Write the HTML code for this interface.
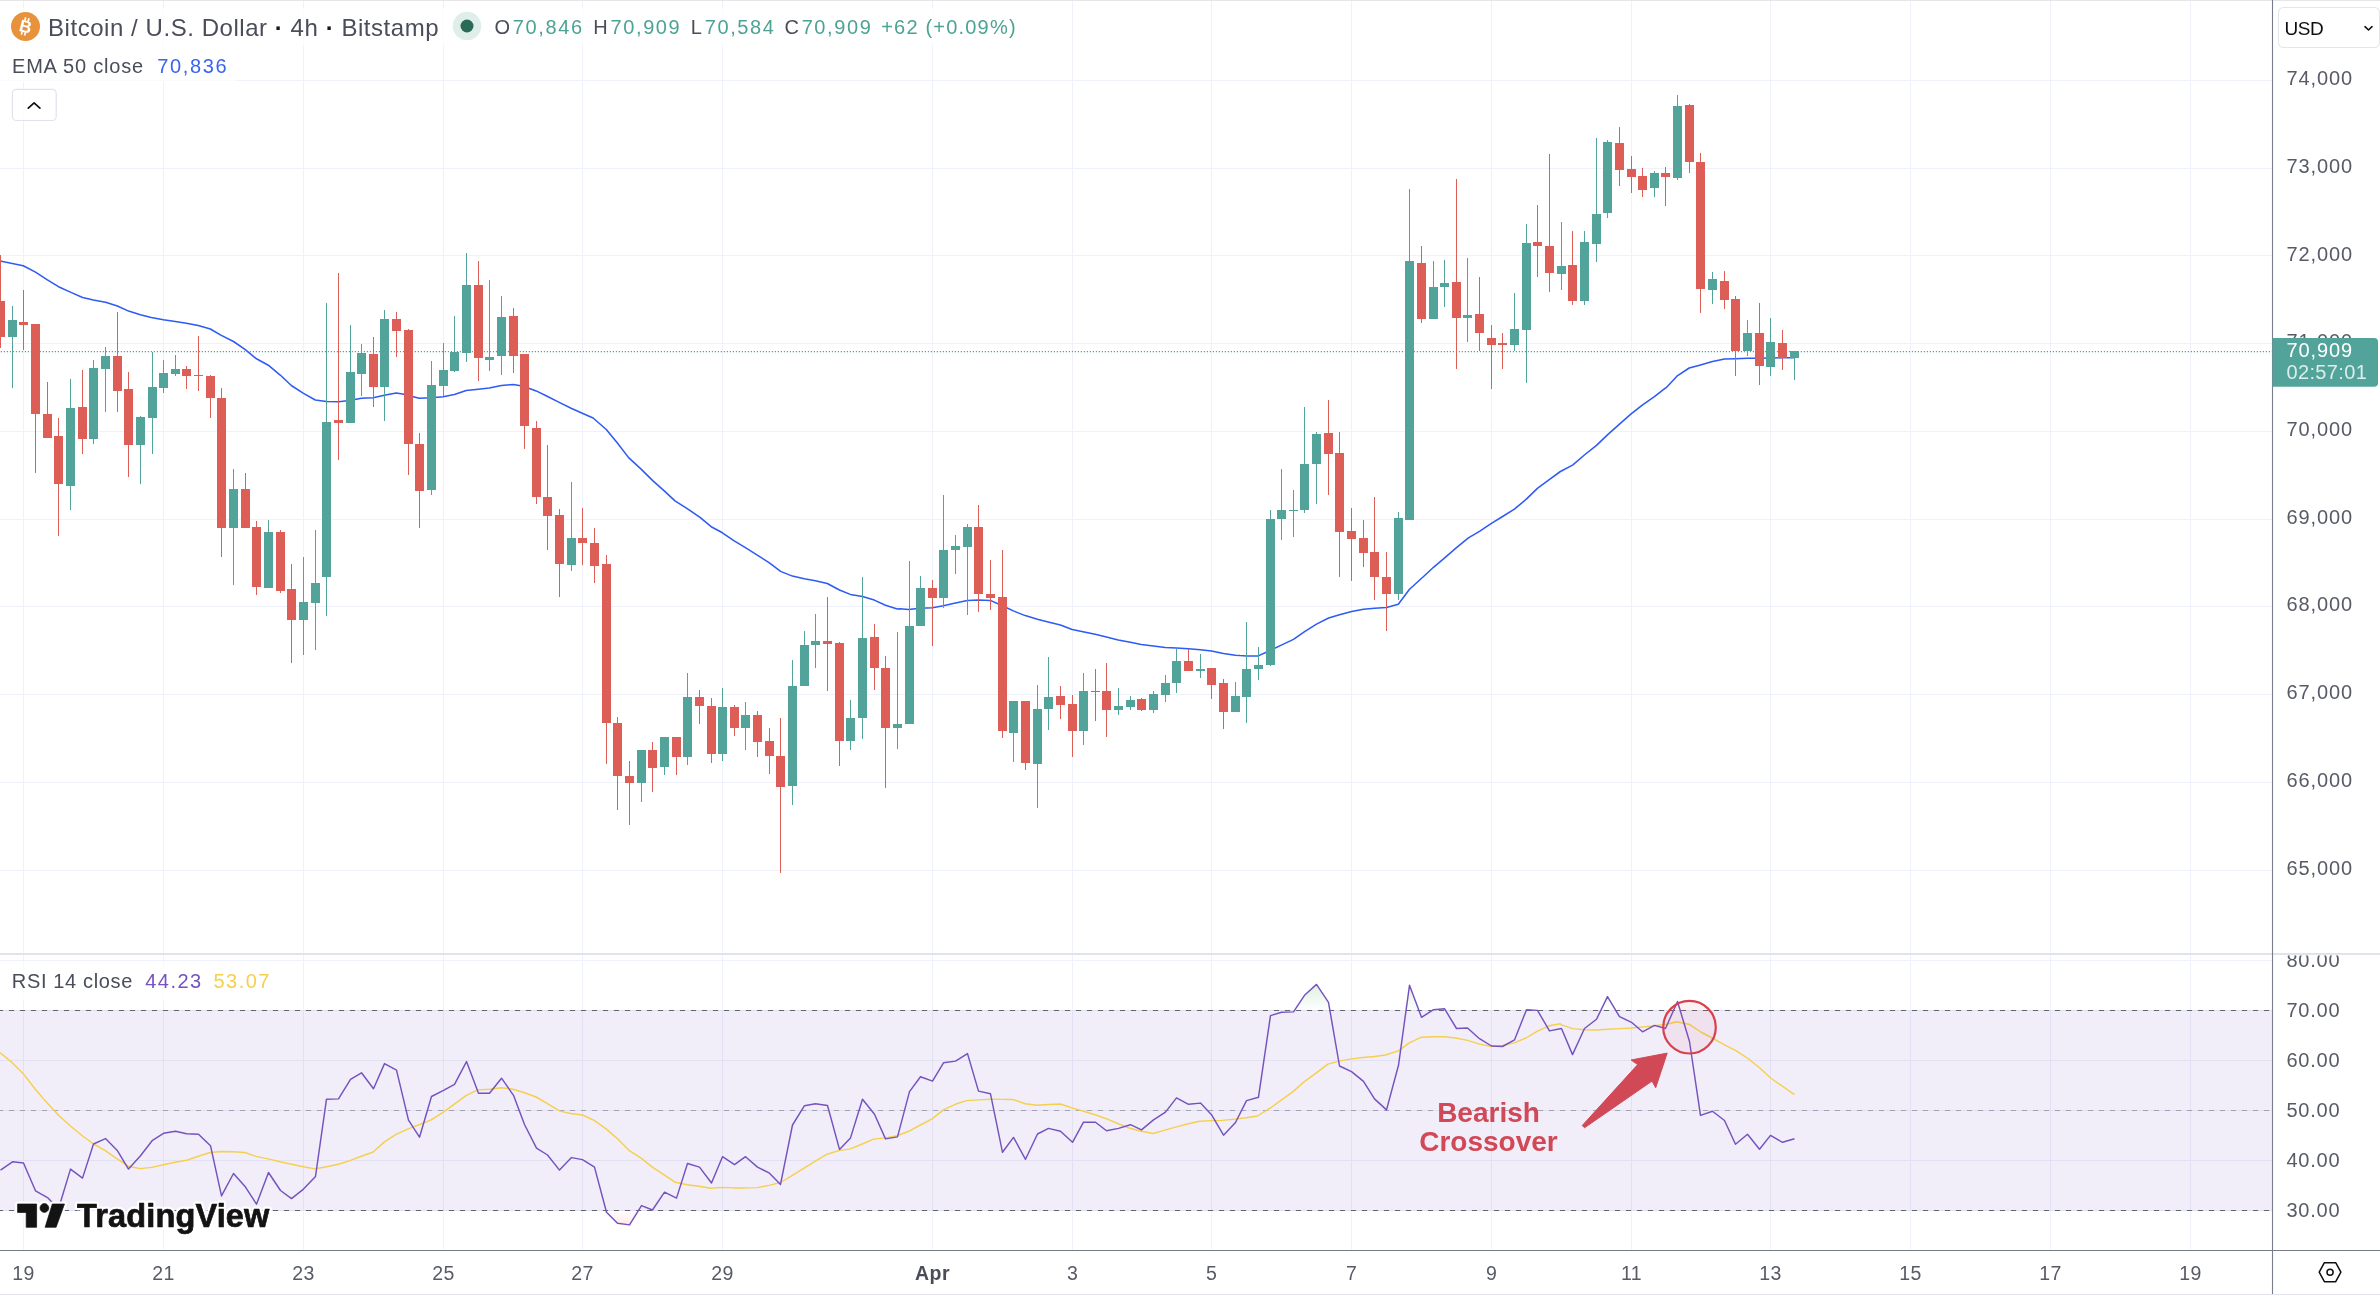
<!DOCTYPE html><html><head><meta charset="utf-8"><title>BTCUSD</title><style>
html,body{margin:0;padding:0;background:#fff;}body{width:2380px;height:1300px;overflow:hidden;position:relative;font-family:"Liberation Sans",sans-serif;}
svg{position:absolute;left:0;top:0;will-change:transform;}svg text{font-family:"Liberation Sans",sans-serif;}
</style></head><body>
<svg width="2380" height="1300" viewBox="0 0 2380 1300">
<rect x="0" y="0" width="2380" height="1300" fill="#fff"/>
<g stroke="#EFF2FA" stroke-width="1" fill="none">
<line x1="23.5" y1="1" x2="23.5" y2="1250"/>
<line x1="163.5" y1="1" x2="163.5" y2="1250"/>
<line x1="303.5" y1="1" x2="303.5" y2="1250"/>
<line x1="443.5" y1="1" x2="443.5" y2="1250"/>
<line x1="582.5" y1="1" x2="582.5" y2="1250"/>
<line x1="722.5" y1="1" x2="722.5" y2="1250"/>
<line x1="932.5" y1="1" x2="932.5" y2="1250"/>
<line x1="1072.5" y1="1" x2="1072.5" y2="1250"/>
<line x1="1211.5" y1="1" x2="1211.5" y2="1250"/>
<line x1="1351.5" y1="1" x2="1351.5" y2="1250"/>
<line x1="1491.5" y1="1" x2="1491.5" y2="1250"/>
<line x1="1631.5" y1="1" x2="1631.5" y2="1250"/>
<line x1="1770.5" y1="1" x2="1770.5" y2="1250"/>
<line x1="1910.5" y1="1" x2="1910.5" y2="1250"/>
<line x1="2050.5" y1="1" x2="2050.5" y2="1250"/>
<line x1="2190.5" y1="1" x2="2190.5" y2="1250"/>
<line x1="0" y1="80.5" x2="2272.5" y2="80.5"/>
<line x1="0" y1="168.5" x2="2272.5" y2="168.5"/>
<line x1="0" y1="255.5" x2="2272.5" y2="255.5"/>
<line x1="0" y1="343.5" x2="2272.5" y2="343.5"/>
<line x1="0" y1="431.5" x2="2272.5" y2="431.5"/>
<line x1="0" y1="519.5" x2="2272.5" y2="519.5"/>
<line x1="0" y1="606.5" x2="2272.5" y2="606.5"/>
<line x1="0" y1="694.5" x2="2272.5" y2="694.5"/>
<line x1="0" y1="782.5" x2="2272.5" y2="782.5"/>
<line x1="0" y1="870.5" x2="2272.5" y2="870.5"/>
</g>
<g stroke="#EFF2FA" stroke-width="1" fill="none">
<line x1="0" y1="960.5" x2="2272.5" y2="960.5"/>
<line x1="0" y1="1010.5" x2="2272.5" y2="1010.5"/>
<line x1="0" y1="1060.5" x2="2272.5" y2="1060.5"/>
<line x1="0" y1="1110.5" x2="2272.5" y2="1110.5"/>
<line x1="0" y1="1160.5" x2="2272.5" y2="1160.5"/>
<line x1="0" y1="1210.5" x2="2272.5" y2="1210.5"/>
</g>
<rect x="0" y="1010" width="2272.5" height="201" fill="#7E57C2" fill-opacity="0.105"/>
<g fill="none" stroke-width="1.15" stroke-dasharray="5.2 5.8" stroke-dashoffset="2.1">
<line x1="0" y1="1010.5" x2="2272.5" y2="1010.5" stroke="#63656E"/>
<line x1="0" y1="1110.5" x2="2272.5" y2="1110.5" stroke="#63656E" stroke-opacity="0.5"/>
<line x1="0" y1="1210.5" x2="2272.5" y2="1210.5" stroke="#63656E"/>
</g>
<line x1="0" y1="351.5" x2="2272.5" y2="351.5" stroke="#4FA397" stroke-width="1.25" stroke-dasharray="1.2 1.8" stroke-dashoffset="2.2"/>
<polyline fill="none" stroke="#2E5BF3" stroke-width="1.55" stroke-linejoin="round" points="0.0,261.0 23.3,265.7 35.5,272.1 47.4,279.9 58.5,286.7 70.4,292.1 82.6,297.5 93.4,299.9 105.6,302.3 117.4,306.0 128.6,311.1 140.4,314.8 151.2,317.5 163.4,319.8 175.3,321.5 186.4,323.2 198.3,325.6 210.4,329.0 221.3,335.4 233.5,341.5 245.3,349.6 256.5,358.8 268.3,365.2 280.5,375.3 291.3,385.5 303.5,393.3 315.3,400.0 326.5,401.4 338.7,401.7 349.5,400.4 361.3,398.3 373.2,397.7 384.3,395.3 396.2,392.9 402.6,393.9 408.3,395.6 419.2,398.3 431.4,397.7 443.2,396.7 454.4,394.6 466.2,390.6 478.4,389.2 489.2,387.9 501.4,385.5 513.2,384.5 519.3,385.5 524.1,386.5 536.2,390.9 547.1,396.3 559.2,402.4 571.1,408.2 582.3,413.2 593.1,418.0 606.3,429.5 617.4,443.0 628.6,457.6 641.1,469.1 653.0,480.9 664.8,491.4 675.0,500.9 686.8,508.3 700.0,517.4 711.2,526.7 722.4,532.8 734.2,540.9 745.4,547.7 757.3,555.1 769.4,562.9 780.6,571.4 792.4,576.1 804.3,578.8 815.4,580.8 827.3,583.5 839.5,590.0 850.3,594.4 862.5,596.4 874.3,600.1 885.5,605.2 897.3,608.9 900.0,608.8 908.5,609.5 920.3,608.2 932.5,607.8 943.3,605.8 955.5,603.1 967.3,600.4 978.5,600.0 990.3,600.4 1002.5,605.8 1013.3,610.9 1025.2,615.6 1037.4,619.3 1048.2,622.0 1060.4,625.1 1072.2,629.5 1083.0,631.8 1095.2,634.2 1106.4,636.9 1118.2,640.0 1130.4,642.3 1141.2,644.4 1153.4,646.0 1165.3,647.4 1176.4,648.1 1188.3,648.8 1200.4,649.8 1211.6,651.1 1223.5,653.5 1235.3,655.2 1240.0,655.6 1246.4,655.9 1258.3,655.9 1270.5,650.2 1281.3,645.1 1293.5,639.4 1304.6,631.6 1316.5,624.1 1328.6,618.0 1339.5,614.7 1351.7,611.6 1363.5,609.2 1374.7,608.2 1386.5,607.6 1398.3,604.2 1409.5,589.3 1421.4,578.5 1433.5,567.3 1444.4,558.2 1456.5,547.7 1468.4,537.9 1479.5,531.4 1491.4,523.3 1502.6,516.5 1514.4,509.1 1526.6,498.9 1537.7,488.1 1549.6,479.3 1560.4,471.5 1572.6,465.1 1584.4,455.0 1596.5,445.4 1607.7,434.6 1619.5,424.1 1631.4,413.6 1642.6,404.8 1654.4,396.7 1665.6,387.9 1666.2,387.7 1676.9,376.2 1689.2,368.0 1700.5,364.9 1712.5,361.5 1724.5,359.1 1735.4,358.8 1747.5,358.2 1759.4,358.2 1770.5,358.0 1782.5,357.8 1794.5,357.8"/>
<g shape-rendering="crispEdges">
<rect x="0" y="255" width="1" height="93" fill="#DD5E56"/><rect x="-4" y="301" width="9" height="36" fill="#DD5E56"/>
<rect x="12" y="306" width="1" height="82" fill="#52A49A"/><rect x="8" y="320" width="9" height="17" fill="#52A49A"/>
<rect x="23" y="290" width="1" height="60" fill="#DD5E56"/><rect x="19" y="322" width="9" height="3" fill="#DD5E56"/>
<rect x="35" y="324" width="1" height="149" fill="#DD5E56"/><rect x="31" y="324" width="9" height="90" fill="#DD5E56"/>
<rect x="47" y="382" width="1" height="56" fill="#DD5E56"/><rect x="43" y="414" width="9" height="24" fill="#DD5E56"/>
<rect x="58" y="418" width="1" height="118" fill="#DD5E56"/><rect x="54" y="436" width="9" height="48" fill="#DD5E56"/>
<rect x="70" y="379" width="1" height="131" fill="#52A49A"/><rect x="66" y="408" width="9" height="78" fill="#52A49A"/>
<rect x="82" y="370" width="1" height="84" fill="#DD5E56"/><rect x="78" y="407" width="9" height="32" fill="#DD5E56"/>
<rect x="93" y="360" width="1" height="84" fill="#52A49A"/><rect x="89" y="368" width="9" height="71" fill="#52A49A"/>
<rect x="105" y="347" width="1" height="65" fill="#52A49A"/><rect x="101" y="356" width="9" height="13" fill="#52A49A"/>
<rect x="117" y="312" width="1" height="100" fill="#DD5E56"/><rect x="113" y="356" width="9" height="35" fill="#DD5E56"/>
<rect x="128" y="372" width="1" height="105" fill="#DD5E56"/><rect x="124" y="389" width="9" height="56" fill="#DD5E56"/>
<rect x="140" y="416" width="1" height="68" fill="#52A49A"/><rect x="136" y="417" width="9" height="28" fill="#52A49A"/>
<rect x="152" y="352" width="1" height="102" fill="#52A49A"/><rect x="148" y="387" width="9" height="31" fill="#52A49A"/>
<rect x="163" y="360" width="1" height="33" fill="#52A49A"/><rect x="159" y="373" width="9" height="15" fill="#52A49A"/>
<rect x="175" y="355" width="1" height="21" fill="#52A49A"/><rect x="171" y="369" width="9" height="5" fill="#52A49A"/>
<rect x="186" y="366" width="1" height="23" fill="#DD5E56"/><rect x="182" y="369" width="9" height="7" fill="#DD5E56"/>
<rect x="198" y="336" width="1" height="55" fill="#DD5E56"/><rect x="194" y="375" width="9" height="1" fill="#DD5E56"/>
<rect x="210" y="375" width="1" height="43" fill="#DD5E56"/><rect x="206" y="376" width="9" height="22" fill="#DD5E56"/>
<rect x="221" y="388" width="1" height="169" fill="#DD5E56"/><rect x="217" y="398" width="9" height="130" fill="#DD5E56"/>
<rect x="233" y="469" width="1" height="116" fill="#52A49A"/><rect x="229" y="489" width="9" height="39" fill="#52A49A"/>
<rect x="245" y="473" width="1" height="55" fill="#DD5E56"/><rect x="241" y="489" width="9" height="39" fill="#DD5E56"/>
<rect x="256" y="521" width="1" height="74" fill="#DD5E56"/><rect x="252" y="527" width="9" height="60" fill="#DD5E56"/>
<rect x="268" y="520" width="1" height="68" fill="#52A49A"/><rect x="264" y="532" width="9" height="56" fill="#52A49A"/>
<rect x="280" y="530" width="1" height="63" fill="#DD5E56"/><rect x="276" y="532" width="9" height="59" fill="#DD5E56"/>
<rect x="291" y="564" width="1" height="99" fill="#DD5E56"/><rect x="287" y="589" width="9" height="31" fill="#DD5E56"/>
<rect x="303" y="557" width="1" height="98" fill="#52A49A"/><rect x="299" y="602" width="9" height="18" fill="#52A49A"/>
<rect x="315" y="530" width="1" height="120" fill="#52A49A"/><rect x="311" y="583" width="9" height="20" fill="#52A49A"/>
<rect x="326" y="303" width="1" height="313" fill="#52A49A"/><rect x="322" y="422" width="9" height="155" fill="#52A49A"/>
<rect x="338" y="273" width="1" height="187" fill="#DD5E56"/><rect x="334" y="420" width="9" height="3" fill="#DD5E56"/>
<rect x="350" y="325" width="1" height="98" fill="#52A49A"/><rect x="346" y="372" width="9" height="51" fill="#52A49A"/>
<rect x="361" y="344" width="1" height="52" fill="#52A49A"/><rect x="357" y="353" width="9" height="21" fill="#52A49A"/>
<rect x="373" y="337" width="1" height="70" fill="#DD5E56"/><rect x="369" y="354" width="9" height="33" fill="#DD5E56"/>
<rect x="384" y="310" width="1" height="111" fill="#52A49A"/><rect x="380" y="319" width="9" height="68" fill="#52A49A"/>
<rect x="396" y="312" width="1" height="45" fill="#DD5E56"/><rect x="392" y="319" width="9" height="12" fill="#DD5E56"/>
<rect x="408" y="329" width="1" height="146" fill="#DD5E56"/><rect x="404" y="330" width="9" height="114" fill="#DD5E56"/>
<rect x="419" y="433" width="1" height="95" fill="#DD5E56"/><rect x="415" y="444" width="9" height="47" fill="#DD5E56"/>
<rect x="431" y="361" width="1" height="134" fill="#52A49A"/><rect x="427" y="385" width="9" height="105" fill="#52A49A"/>
<rect x="443" y="343" width="1" height="53" fill="#52A49A"/><rect x="439" y="370" width="9" height="16" fill="#52A49A"/>
<rect x="454" y="316" width="1" height="56" fill="#52A49A"/><rect x="450" y="352" width="9" height="19" fill="#52A49A"/>
<rect x="466" y="253" width="1" height="109" fill="#52A49A"/><rect x="462" y="285" width="9" height="68" fill="#52A49A"/>
<rect x="478" y="261" width="1" height="120" fill="#DD5E56"/><rect x="474" y="285" width="9" height="73" fill="#DD5E56"/>
<rect x="489" y="280" width="1" height="91" fill="#52A49A"/><rect x="485" y="357" width="9" height="3" fill="#52A49A"/>
<rect x="501" y="296" width="1" height="79" fill="#52A49A"/><rect x="497" y="317" width="9" height="39" fill="#52A49A"/>
<rect x="513" y="308" width="1" height="65" fill="#DD5E56"/><rect x="509" y="316" width="9" height="40" fill="#DD5E56"/>
<rect x="524" y="354" width="1" height="95" fill="#DD5E56"/><rect x="520" y="354" width="9" height="72" fill="#DD5E56"/>
<rect x="536" y="421" width="1" height="83" fill="#DD5E56"/><rect x="532" y="428" width="9" height="69" fill="#DD5E56"/>
<rect x="547" y="445" width="1" height="105" fill="#DD5E56"/><rect x="543" y="497" width="9" height="19" fill="#DD5E56"/>
<rect x="559" y="509" width="1" height="88" fill="#DD5E56"/><rect x="555" y="515" width="9" height="49" fill="#DD5E56"/>
<rect x="571" y="482" width="1" height="89" fill="#52A49A"/><rect x="567" y="538" width="9" height="27" fill="#52A49A"/>
<rect x="582" y="508" width="1" height="57" fill="#DD5E56"/><rect x="578" y="538" width="9" height="5" fill="#DD5E56"/>
<rect x="594" y="528" width="1" height="55" fill="#DD5E56"/><rect x="590" y="543" width="9" height="23" fill="#DD5E56"/>
<rect x="606" y="555" width="1" height="209" fill="#DD5E56"/><rect x="602" y="564" width="9" height="159" fill="#DD5E56"/>
<rect x="617" y="717" width="1" height="93" fill="#DD5E56"/><rect x="613" y="723" width="9" height="53" fill="#DD5E56"/>
<rect x="629" y="761" width="1" height="64" fill="#DD5E56"/><rect x="625" y="776" width="9" height="7" fill="#DD5E56"/>
<rect x="641" y="750" width="1" height="52" fill="#52A49A"/><rect x="637" y="750" width="9" height="33" fill="#52A49A"/>
<rect x="652" y="742" width="1" height="50" fill="#DD5E56"/><rect x="648" y="750" width="9" height="18" fill="#DD5E56"/>
<rect x="664" y="737" width="1" height="38" fill="#52A49A"/><rect x="660" y="737" width="9" height="30" fill="#52A49A"/>
<rect x="676" y="737" width="1" height="38" fill="#DD5E56"/><rect x="672" y="737" width="9" height="20" fill="#DD5E56"/>
<rect x="687" y="673" width="1" height="92" fill="#52A49A"/><rect x="683" y="697" width="9" height="60" fill="#52A49A"/>
<rect x="699" y="690" width="1" height="34" fill="#DD5E56"/><rect x="695" y="697" width="9" height="9" fill="#DD5E56"/>
<rect x="711" y="698" width="1" height="65" fill="#DD5E56"/><rect x="707" y="706" width="9" height="48" fill="#DD5E56"/>
<rect x="722" y="688" width="1" height="73" fill="#52A49A"/><rect x="718" y="707" width="9" height="47" fill="#52A49A"/>
<rect x="734" y="705" width="1" height="31" fill="#DD5E56"/><rect x="730" y="707" width="9" height="21" fill="#DD5E56"/>
<rect x="745" y="702" width="1" height="48" fill="#52A49A"/><rect x="741" y="715" width="9" height="13" fill="#52A49A"/>
<rect x="757" y="711" width="1" height="46" fill="#DD5E56"/><rect x="753" y="715" width="9" height="27" fill="#DD5E56"/>
<rect x="769" y="728" width="1" height="46" fill="#DD5E56"/><rect x="765" y="741" width="9" height="15" fill="#DD5E56"/>
<rect x="780" y="718" width="1" height="155" fill="#DD5E56"/><rect x="776" y="756" width="9" height="31" fill="#DD5E56"/>
<rect x="792" y="660" width="1" height="145" fill="#52A49A"/><rect x="788" y="686" width="9" height="100" fill="#52A49A"/>
<rect x="804" y="631" width="1" height="55" fill="#52A49A"/><rect x="800" y="645" width="9" height="41" fill="#52A49A"/>
<rect x="815" y="614" width="1" height="54" fill="#52A49A"/><rect x="811" y="641" width="9" height="4" fill="#52A49A"/>
<rect x="827" y="597" width="1" height="94" fill="#DD5E56"/><rect x="823" y="641" width="9" height="3" fill="#DD5E56"/>
<rect x="839" y="642" width="1" height="124" fill="#DD5E56"/><rect x="835" y="643" width="9" height="98" fill="#DD5E56"/>
<rect x="850" y="700" width="1" height="50" fill="#52A49A"/><rect x="846" y="718" width="9" height="23" fill="#52A49A"/>
<rect x="862" y="577" width="1" height="162" fill="#52A49A"/><rect x="858" y="638" width="9" height="80" fill="#52A49A"/>
<rect x="874" y="624" width="1" height="66" fill="#DD5E56"/><rect x="870" y="637" width="9" height="31" fill="#DD5E56"/>
<rect x="885" y="656" width="1" height="132" fill="#DD5E56"/><rect x="881" y="668" width="9" height="60" fill="#DD5E56"/>
<rect x="897" y="632" width="1" height="117" fill="#52A49A"/><rect x="893" y="724" width="9" height="4" fill="#52A49A"/>
<rect x="909" y="561" width="1" height="163" fill="#52A49A"/><rect x="905" y="626" width="9" height="98" fill="#52A49A"/>
<rect x="920" y="576" width="1" height="50" fill="#52A49A"/><rect x="916" y="588" width="9" height="38" fill="#52A49A"/>
<rect x="932" y="580" width="1" height="66" fill="#DD5E56"/><rect x="928" y="588" width="9" height="10" fill="#DD5E56"/>
<rect x="943" y="495" width="1" height="113" fill="#52A49A"/><rect x="939" y="550" width="9" height="48" fill="#52A49A"/>
<rect x="955" y="535" width="1" height="39" fill="#52A49A"/><rect x="951" y="546" width="9" height="4" fill="#52A49A"/>
<rect x="967" y="524" width="1" height="91" fill="#52A49A"/><rect x="963" y="527" width="9" height="20" fill="#52A49A"/>
<rect x="978" y="505" width="1" height="107" fill="#DD5E56"/><rect x="974" y="527" width="9" height="67" fill="#DD5E56"/>
<rect x="990" y="560" width="1" height="50" fill="#DD5E56"/><rect x="986" y="594" width="9" height="4" fill="#DD5E56"/>
<rect x="1002" y="550" width="1" height="188" fill="#DD5E56"/><rect x="998" y="597" width="9" height="134" fill="#DD5E56"/>
<rect x="1013" y="701" width="1" height="61" fill="#52A49A"/><rect x="1009" y="701" width="9" height="32" fill="#52A49A"/>
<rect x="1025" y="701" width="1" height="69" fill="#DD5E56"/><rect x="1021" y="701" width="9" height="62" fill="#DD5E56"/>
<rect x="1037" y="685" width="1" height="123" fill="#52A49A"/><rect x="1033" y="709" width="9" height="55" fill="#52A49A"/>
<rect x="1048" y="657" width="1" height="73" fill="#52A49A"/><rect x="1044" y="697" width="9" height="12" fill="#52A49A"/>
<rect x="1060" y="686" width="1" height="33" fill="#DD5E56"/><rect x="1056" y="696" width="9" height="9" fill="#DD5E56"/>
<rect x="1072" y="695" width="1" height="62" fill="#DD5E56"/><rect x="1068" y="704" width="9" height="27" fill="#DD5E56"/>
<rect x="1083" y="673" width="1" height="72" fill="#52A49A"/><rect x="1079" y="691" width="9" height="40" fill="#52A49A"/>
<rect x="1095" y="669" width="1" height="52" fill="#DD5E56"/><rect x="1091" y="691" width="9" height="1" fill="#DD5E56"/>
<rect x="1106" y="663" width="1" height="74" fill="#DD5E56"/><rect x="1102" y="691" width="9" height="19" fill="#DD5E56"/>
<rect x="1118" y="688" width="1" height="27" fill="#52A49A"/><rect x="1114" y="706" width="9" height="4" fill="#52A49A"/>
<rect x="1130" y="696" width="1" height="14" fill="#52A49A"/><rect x="1126" y="700" width="9" height="7" fill="#52A49A"/>
<rect x="1141" y="698" width="1" height="13" fill="#DD5E56"/><rect x="1137" y="699" width="9" height="11" fill="#DD5E56"/>
<rect x="1153" y="691" width="1" height="22" fill="#52A49A"/><rect x="1149" y="694" width="9" height="16" fill="#52A49A"/>
<rect x="1165" y="675" width="1" height="27" fill="#52A49A"/><rect x="1161" y="683" width="9" height="12" fill="#52A49A"/>
<rect x="1176" y="649" width="1" height="44" fill="#52A49A"/><rect x="1172" y="661" width="9" height="22" fill="#52A49A"/>
<rect x="1188" y="649" width="1" height="22" fill="#DD5E56"/><rect x="1184" y="661" width="9" height="10" fill="#DD5E56"/>
<rect x="1200" y="654" width="1" height="24" fill="#52A49A"/><rect x="1196" y="669" width="9" height="2" fill="#52A49A"/>
<rect x="1211" y="668" width="1" height="31" fill="#DD5E56"/><rect x="1207" y="668" width="9" height="17" fill="#DD5E56"/>
<rect x="1223" y="679" width="1" height="50" fill="#DD5E56"/><rect x="1219" y="683" width="9" height="29" fill="#DD5E56"/>
<rect x="1235" y="682" width="1" height="30" fill="#52A49A"/><rect x="1231" y="696" width="9" height="16" fill="#52A49A"/>
<rect x="1246" y="622" width="1" height="101" fill="#52A49A"/><rect x="1242" y="669" width="9" height="28" fill="#52A49A"/>
<rect x="1258" y="647" width="1" height="33" fill="#52A49A"/><rect x="1254" y="665" width="9" height="4" fill="#52A49A"/>
<rect x="1270" y="510" width="1" height="156" fill="#52A49A"/><rect x="1266" y="519" width="9" height="146" fill="#52A49A"/>
<rect x="1281" y="469" width="1" height="71" fill="#52A49A"/><rect x="1277" y="510" width="9" height="9" fill="#52A49A"/>
<rect x="1293" y="490" width="1" height="47" fill="#52A49A"/><rect x="1289" y="510" width="9" height="1" fill="#52A49A"/>
<rect x="1304" y="407" width="1" height="106" fill="#52A49A"/><rect x="1300" y="464" width="9" height="46" fill="#52A49A"/>
<rect x="1316" y="432" width="1" height="72" fill="#52A49A"/><rect x="1312" y="434" width="9" height="30" fill="#52A49A"/>
<rect x="1328" y="400" width="1" height="95" fill="#DD5E56"/><rect x="1324" y="433" width="9" height="21" fill="#DD5E56"/>
<rect x="1339" y="432" width="1" height="145" fill="#DD5E56"/><rect x="1335" y="453" width="9" height="79" fill="#DD5E56"/>
<rect x="1351" y="508" width="1" height="73" fill="#DD5E56"/><rect x="1347" y="531" width="9" height="8" fill="#DD5E56"/>
<rect x="1363" y="520" width="1" height="47" fill="#DD5E56"/><rect x="1359" y="538" width="9" height="15" fill="#DD5E56"/>
<rect x="1374" y="497" width="1" height="103" fill="#DD5E56"/><rect x="1370" y="552" width="9" height="25" fill="#DD5E56"/>
<rect x="1386" y="552" width="1" height="79" fill="#DD5E56"/><rect x="1382" y="577" width="9" height="17" fill="#DD5E56"/>
<rect x="1398" y="512" width="1" height="88" fill="#52A49A"/><rect x="1394" y="518" width="9" height="76" fill="#52A49A"/>
<rect x="1409" y="189" width="1" height="331" fill="#52A49A"/><rect x="1405" y="261" width="9" height="259" fill="#52A49A"/>
<rect x="1421" y="246" width="1" height="77" fill="#DD5E56"/><rect x="1417" y="263" width="9" height="56" fill="#DD5E56"/>
<rect x="1433" y="261" width="1" height="58" fill="#52A49A"/><rect x="1429" y="287" width="9" height="32" fill="#52A49A"/>
<rect x="1444" y="260" width="1" height="47" fill="#52A49A"/><rect x="1440" y="283" width="9" height="4" fill="#52A49A"/>
<rect x="1456" y="179" width="1" height="190" fill="#DD5E56"/><rect x="1452" y="282" width="9" height="36" fill="#DD5E56"/>
<rect x="1467" y="258" width="1" height="84" fill="#52A49A"/><rect x="1463" y="315" width="9" height="3" fill="#52A49A"/>
<rect x="1479" y="277" width="1" height="74" fill="#DD5E56"/><rect x="1475" y="314" width="9" height="19" fill="#DD5E56"/>
<rect x="1491" y="325" width="1" height="64" fill="#DD5E56"/><rect x="1487" y="338" width="9" height="7" fill="#DD5E56"/>
<rect x="1502" y="333" width="1" height="36" fill="#DD5E56"/><rect x="1498" y="343" width="9" height="2" fill="#DD5E56"/>
<rect x="1514" y="293" width="1" height="58" fill="#52A49A"/><rect x="1510" y="329" width="9" height="16" fill="#52A49A"/>
<rect x="1526" y="224" width="1" height="159" fill="#52A49A"/><rect x="1522" y="243" width="9" height="87" fill="#52A49A"/>
<rect x="1537" y="205" width="1" height="72" fill="#DD5E56"/><rect x="1533" y="242" width="9" height="4" fill="#DD5E56"/>
<rect x="1549" y="154" width="1" height="138" fill="#DD5E56"/><rect x="1545" y="246" width="9" height="27" fill="#DD5E56"/>
<rect x="1561" y="222" width="1" height="68" fill="#52A49A"/><rect x="1557" y="266" width="9" height="8" fill="#52A49A"/>
<rect x="1572" y="231" width="1" height="74" fill="#DD5E56"/><rect x="1568" y="265" width="9" height="36" fill="#DD5E56"/>
<rect x="1584" y="231" width="1" height="74" fill="#52A49A"/><rect x="1580" y="242" width="9" height="59" fill="#52A49A"/>
<rect x="1596" y="138" width="1" height="124" fill="#52A49A"/><rect x="1592" y="214" width="9" height="30" fill="#52A49A"/>
<rect x="1607" y="140" width="1" height="78" fill="#52A49A"/><rect x="1603" y="142" width="9" height="71" fill="#52A49A"/>
<rect x="1619" y="127" width="1" height="59" fill="#DD5E56"/><rect x="1615" y="143" width="9" height="27" fill="#DD5E56"/>
<rect x="1631" y="156" width="1" height="37" fill="#DD5E56"/><rect x="1627" y="169" width="9" height="8" fill="#DD5E56"/>
<rect x="1642" y="168" width="1" height="29" fill="#DD5E56"/><rect x="1638" y="176" width="9" height="14" fill="#DD5E56"/>
<rect x="1654" y="171" width="1" height="26" fill="#52A49A"/><rect x="1650" y="173" width="9" height="15" fill="#52A49A"/>
<rect x="1665" y="167" width="1" height="39" fill="#DD5E56"/><rect x="1661" y="173" width="9" height="4" fill="#DD5E56"/>
<rect x="1677" y="95" width="1" height="85" fill="#52A49A"/><rect x="1673" y="106" width="9" height="72" fill="#52A49A"/>
<rect x="1689" y="104" width="1" height="69" fill="#DD5E56"/><rect x="1685" y="105" width="9" height="57" fill="#DD5E56"/>
<rect x="1700" y="153" width="1" height="160" fill="#DD5E56"/><rect x="1696" y="162" width="9" height="127" fill="#DD5E56"/>
<rect x="1712" y="272" width="1" height="32" fill="#52A49A"/><rect x="1708" y="279" width="9" height="11" fill="#52A49A"/>
<rect x="1724" y="271" width="1" height="38" fill="#DD5E56"/><rect x="1720" y="281" width="9" height="19" fill="#DD5E56"/>
<rect x="1735" y="296" width="1" height="80" fill="#DD5E56"/><rect x="1731" y="299" width="9" height="52" fill="#DD5E56"/>
<rect x="1747" y="320" width="1" height="36" fill="#52A49A"/><rect x="1743" y="333" width="9" height="18" fill="#52A49A"/>
<rect x="1759" y="303" width="1" height="82" fill="#DD5E56"/><rect x="1755" y="333" width="9" height="33" fill="#DD5E56"/>
<rect x="1770" y="318" width="1" height="58" fill="#52A49A"/><rect x="1766" y="342" width="9" height="25" fill="#52A49A"/>
<rect x="1782" y="330" width="1" height="40" fill="#DD5E56"/><rect x="1778" y="343" width="9" height="15" fill="#DD5E56"/>
<rect x="1794" y="351" width="1" height="29" fill="#52A49A"/><rect x="1790" y="351" width="9" height="7" fill="#52A49A"/>
</g>
<defs><linearGradient id="gU" x1="0" y1="980" x2="0" y2="1010.4" gradientUnits="userSpaceOnUse"><stop offset="0" stop-color="#4CAF50" stop-opacity="0.22"/><stop offset="1" stop-color="#4CAF50" stop-opacity="0"/></linearGradient>
<linearGradient id="gD" x1="0" y1="1210.3" x2="0" y2="1230" gradientUnits="userSpaceOnUse"><stop offset="0" stop-color="#FF5252" stop-opacity="0"/><stop offset="1" stop-color="#FF5252" stop-opacity="0.18"/></linearGradient>
<clipPath id="cU"><rect x="0" y="955" width="2272" height="55.4"/></clipPath><clipPath id="cD"><rect x="0" y="1210.3" width="2272" height="40"/></clipPath></defs>
<polygon clip-path="url(#cU)" fill="url(#gU)" points="0.5,1010.4 0.5,1170.1 12.5,1161.8 23.5,1163.0 35.5,1190.8 47.5,1197.6 58.5,1208.8 70.5,1169.1 82.5,1178.1 93.5,1144.0 105.5,1138.6 117.5,1150.8 128.5,1169.1 140.5,1155.7 152.5,1140.3 163.5,1133.3 175.5,1131.3 186.5,1133.8 198.5,1134.2 210.5,1145.7 221.5,1195.9 233.5,1173.5 245.5,1187.1 256.5,1204.2 268.5,1172.5 280.5,1190.5 291.5,1198.6 303.5,1189.1 315.5,1176.4 326.5,1099.2 338.5,1098.9 350.5,1079.4 361.5,1072.8 373.5,1088.7 384.5,1063.6 396.5,1070.2 408.5,1120.1 419.5,1137.2 431.5,1096.5 443.5,1090.4 454.5,1084.3 466.5,1061.6 478.5,1093.3 489.5,1093.3 501.5,1078.2 513.5,1095.3 524.5,1124.5 536.5,1148.1 547.5,1155.0 559.5,1170.1 571.5,1157.6 582.5,1159.6 594.5,1167.1 606.5,1212.2 617.5,1223.2 629.5,1224.9 641.5,1205.6 652.5,1210.0 664.5,1192.2 676.5,1198.1 687.5,1163.5 699.5,1167.1 711.5,1183.0 722.5,1156.7 734.5,1164.7 745.5,1156.7 757.5,1167.1 769.5,1173.2 780.5,1184.4 792.5,1125.0 804.5,1105.7 815.5,1103.8 827.5,1105.5 839.5,1149.4 850.5,1137.9 862.5,1099.2 874.5,1114.3 885.5,1138.9 897.5,1136.9 909.5,1091.6 920.5,1076.7 932.5,1081.1 943.5,1062.8 955.5,1061.1 967.5,1053.6 978.5,1091.1 990.5,1093.8 1002.5,1152.3 1013.5,1137.4 1025.5,1159.3 1037.5,1134.0 1048.5,1128.4 1060.5,1131.3 1072.5,1142.3 1083.5,1122.1 1095.5,1122.3 1106.5,1130.8 1118.5,1128.4 1130.5,1124.7 1141.5,1129.9 1153.5,1119.9 1165.5,1112.1 1176.5,1097.9 1188.5,1104.3 1200.5,1103.1 1211.5,1114.7 1223.5,1135.2 1235.5,1122.5 1246.5,1100.6 1258.5,1097.2 1270.5,1015.6 1281.5,1012.2 1293.5,1011.9 1304.5,995.3 1316.5,984.4 1328.5,1002.4 1339.5,1066.0 1351.5,1071.6 1363.5,1081.4 1374.5,1098.9 1386.5,1109.9 1398.5,1065.3 1409.5,985.3 1421.5,1017.3 1433.5,1009.7 1444.5,1008.7 1456.5,1028.5 1467.5,1028.0 1479.5,1038.7 1491.5,1046.0 1502.5,1046.5 1514.5,1039.9 1526.5,1009.7 1537.5,1010.4 1549.5,1030.9 1561.5,1028.5 1572.5,1054.6 1584.5,1028.5 1596.5,1019.2 1607.5,996.6 1619.5,1016.6 1631.5,1022.3 1642.5,1031.8 1654.5,1025.4 1665.5,1028.5 1677.5,1001.5 1689.5,1041.5 1700.5,1115.4 1712.5,1111.2 1724.5,1120.5 1735.5,1144.3 1747.5,1134.3 1759.5,1149.2 1770.5,1135.4 1782.5,1142.3 1794.5,1138.8 1794.5,1010.4"/>
<polygon clip-path="url(#cD)" fill="url(#gD)" points="0.5,1210.3 0.5,1170.1 12.5,1161.8 23.5,1163.0 35.5,1190.8 47.5,1197.6 58.5,1208.8 70.5,1169.1 82.5,1178.1 93.5,1144.0 105.5,1138.6 117.5,1150.8 128.5,1169.1 140.5,1155.7 152.5,1140.3 163.5,1133.3 175.5,1131.3 186.5,1133.8 198.5,1134.2 210.5,1145.7 221.5,1195.9 233.5,1173.5 245.5,1187.1 256.5,1204.2 268.5,1172.5 280.5,1190.5 291.5,1198.6 303.5,1189.1 315.5,1176.4 326.5,1099.2 338.5,1098.9 350.5,1079.4 361.5,1072.8 373.5,1088.7 384.5,1063.6 396.5,1070.2 408.5,1120.1 419.5,1137.2 431.5,1096.5 443.5,1090.4 454.5,1084.3 466.5,1061.6 478.5,1093.3 489.5,1093.3 501.5,1078.2 513.5,1095.3 524.5,1124.5 536.5,1148.1 547.5,1155.0 559.5,1170.1 571.5,1157.6 582.5,1159.6 594.5,1167.1 606.5,1212.2 617.5,1223.2 629.5,1224.9 641.5,1205.6 652.5,1210.0 664.5,1192.2 676.5,1198.1 687.5,1163.5 699.5,1167.1 711.5,1183.0 722.5,1156.7 734.5,1164.7 745.5,1156.7 757.5,1167.1 769.5,1173.2 780.5,1184.4 792.5,1125.0 804.5,1105.7 815.5,1103.8 827.5,1105.5 839.5,1149.4 850.5,1137.9 862.5,1099.2 874.5,1114.3 885.5,1138.9 897.5,1136.9 909.5,1091.6 920.5,1076.7 932.5,1081.1 943.5,1062.8 955.5,1061.1 967.5,1053.6 978.5,1091.1 990.5,1093.8 1002.5,1152.3 1013.5,1137.4 1025.5,1159.3 1037.5,1134.0 1048.5,1128.4 1060.5,1131.3 1072.5,1142.3 1083.5,1122.1 1095.5,1122.3 1106.5,1130.8 1118.5,1128.4 1130.5,1124.7 1141.5,1129.9 1153.5,1119.9 1165.5,1112.1 1176.5,1097.9 1188.5,1104.3 1200.5,1103.1 1211.5,1114.7 1223.5,1135.2 1235.5,1122.5 1246.5,1100.6 1258.5,1097.2 1270.5,1015.6 1281.5,1012.2 1293.5,1011.9 1304.5,995.3 1316.5,984.4 1328.5,1002.4 1339.5,1066.0 1351.5,1071.6 1363.5,1081.4 1374.5,1098.9 1386.5,1109.9 1398.5,1065.3 1409.5,985.3 1421.5,1017.3 1433.5,1009.7 1444.5,1008.7 1456.5,1028.5 1467.5,1028.0 1479.5,1038.7 1491.5,1046.0 1502.5,1046.5 1514.5,1039.9 1526.5,1009.7 1537.5,1010.4 1549.5,1030.9 1561.5,1028.5 1572.5,1054.6 1584.5,1028.5 1596.5,1019.2 1607.5,996.6 1619.5,1016.6 1631.5,1022.3 1642.5,1031.8 1654.5,1025.4 1665.5,1028.5 1677.5,1001.5 1689.5,1041.5 1700.5,1115.4 1712.5,1111.2 1724.5,1120.5 1735.5,1144.3 1747.5,1134.3 1759.5,1149.2 1770.5,1135.4 1782.5,1142.3 1794.5,1138.8 1794.5,1210.3"/>
<polyline fill="none" stroke="#F5D04E" stroke-width="1.45" stroke-linejoin="round" points="0.0,1052.6 11.9,1062.4 23.6,1074.1 35.3,1089.2 46.8,1102.6 58.5,1115.2 70.2,1125.7 81.9,1135.5 93.6,1144.0 105.3,1150.6 116.7,1158.6 128.4,1166.2 140.1,1168.6 151.8,1167.4 163.5,1164.7 175.0,1162.3 186.7,1160.3 198.4,1156.2 210.1,1152.5 221.8,1151.5 233.5,1151.8 244.9,1152.5 255.9,1156.4 268.3,1158.9 280.0,1161.8 291.7,1164.2 303.4,1166.7 314.9,1168.9 326.6,1166.7 338.3,1164.2 350.0,1160.6 361.4,1156.2 373.1,1152.0 384.8,1141.6 396.5,1134.2 408.2,1128.9 419.7,1124.5 431.3,1119.9 443.0,1112.3 454.7,1103.8 466.4,1095.3 477.9,1089.9 489.6,1089.2 501.3,1087.7 513.0,1089.2 524.7,1092.8 536.1,1097.0 547.8,1103.8 560.0,1111.1 570.7,1113.5 582.4,1115.0 594.1,1120.4 605.8,1128.6 617.3,1138.6 629.0,1150.3 640.7,1157.9 652.4,1167.1 664.1,1174.9 675.5,1182.3 687.2,1184.7 698.9,1186.2 710.6,1188.3 722.5,1187.4 733.8,1187.9 745.5,1187.9 757.2,1187.6 768.9,1185.4 780.5,1182.5 792.0,1175.7 803.7,1168.4 815.4,1161.1 827.1,1154.2 838.8,1150.6 850.5,1148.9 862.2,1144.0 873.6,1139.1 885.3,1137.9 897.0,1135.7 908.7,1131.3 920.4,1125.0 932.1,1118.9 943.8,1109.6 955.3,1104.3 966.5,1100.6 978.7,1099.9 990.4,1099.2 1001.3,1099.4 1012.6,1099.4 1025.2,1103.8 1036.9,1105.2 1048.6,1104.5 1060.3,1104.0 1072.0,1107.9 1083.5,1111.3 1095.2,1114.7 1107.4,1119.1 1120.0,1124.5 1129.7,1128.2 1141.4,1131.3 1153.1,1133.5 1164.8,1130.1 1176.5,1126.9 1188.2,1123.8 1199.7,1121.3 1211.4,1120.6 1222.4,1120.4 1234.8,1119.1 1246.2,1117.7 1257.4,1116.0 1270.1,1108.2 1281.3,1100.1 1293.0,1091.6 1304.0,1081.9 1316.7,1072.6 1327.9,1064.1 1339.1,1061.1 1351.5,1058.9 1363.0,1057.5 1374.4,1056.5 1385.6,1055.0 1398.3,1050.9 1409.3,1042.9 1421.0,1037.3 1432.9,1036.8 1444.6,1036.8 1455.8,1038.0 1467.5,1040.4 1479.7,1044.1 1491.4,1046.5 1502.1,1045.5 1514.1,1042.9 1526.0,1038.0 1537.5,1031.2 1549.2,1025.8 1560.4,1023.8 1561.5,1024.9 1572.6,1028.6 1584.6,1029.7 1596.6,1030.0 1607.8,1029.2 1619.8,1028.6 1631.5,1028.0 1643.2,1026.9 1654.8,1025.7 1666.5,1024.3 1676.6,1021.8 1688.9,1024.2 1700.8,1032.0 1713.1,1038.5 1724.6,1044.9 1736.3,1050.8 1748.0,1058.5 1759.5,1067.7 1771.2,1078.5 1782.9,1086.5 1794.5,1094.6"/>
<polyline fill="none" stroke="#7553BE" stroke-width="1.45" stroke-linejoin="round" points="0.5,1170.1 12.5,1161.8 23.5,1163.0 35.5,1190.8 47.5,1197.6 58.5,1208.8 70.5,1169.1 82.5,1178.1 93.5,1144.0 105.5,1138.6 117.5,1150.8 128.5,1169.1 140.5,1155.7 152.5,1140.3 163.5,1133.3 175.5,1131.3 186.5,1133.8 198.5,1134.2 210.5,1145.7 221.5,1195.9 233.5,1173.5 245.5,1187.1 256.5,1204.2 268.5,1172.5 280.5,1190.5 291.5,1198.6 303.5,1189.1 315.5,1176.4 326.5,1099.2 338.5,1098.9 350.5,1079.4 361.5,1072.8 373.5,1088.7 384.5,1063.6 396.5,1070.2 408.5,1120.1 419.5,1137.2 431.5,1096.5 443.5,1090.4 454.5,1084.3 466.5,1061.6 478.5,1093.3 489.5,1093.3 501.5,1078.2 513.5,1095.3 524.5,1124.5 536.5,1148.1 547.5,1155.0 559.5,1170.1 571.5,1157.6 582.5,1159.6 594.5,1167.1 606.5,1212.2 617.5,1223.2 629.5,1224.9 641.5,1205.6 652.5,1210.0 664.5,1192.2 676.5,1198.1 687.5,1163.5 699.5,1167.1 711.5,1183.0 722.5,1156.7 734.5,1164.7 745.5,1156.7 757.5,1167.1 769.5,1173.2 780.5,1184.4 792.5,1125.0 804.5,1105.7 815.5,1103.8 827.5,1105.5 839.5,1149.4 850.5,1137.9 862.5,1099.2 874.5,1114.3 885.5,1138.9 897.5,1136.9 909.5,1091.6 920.5,1076.7 932.5,1081.1 943.5,1062.8 955.5,1061.1 967.5,1053.6 978.5,1091.1 990.5,1093.8 1002.5,1152.3 1013.5,1137.4 1025.5,1159.3 1037.5,1134.0 1048.5,1128.4 1060.5,1131.3 1072.5,1142.3 1083.5,1122.1 1095.5,1122.3 1106.5,1130.8 1118.5,1128.4 1130.5,1124.7 1141.5,1129.9 1153.5,1119.9 1165.5,1112.1 1176.5,1097.9 1188.5,1104.3 1200.5,1103.1 1211.5,1114.7 1223.5,1135.2 1235.5,1122.5 1246.5,1100.6 1258.5,1097.2 1270.5,1015.6 1281.5,1012.2 1293.5,1011.9 1304.5,995.3 1316.5,984.4 1328.5,1002.4 1339.5,1066.0 1351.5,1071.6 1363.5,1081.4 1374.5,1098.9 1386.5,1109.9 1398.5,1065.3 1409.5,985.3 1421.5,1017.3 1433.5,1009.7 1444.5,1008.7 1456.5,1028.5 1467.5,1028.0 1479.5,1038.7 1491.5,1046.0 1502.5,1046.5 1514.5,1039.9 1526.5,1009.7 1537.5,1010.4 1549.5,1030.9 1561.5,1028.5 1572.5,1054.6 1584.5,1028.5 1596.5,1019.2 1607.5,996.6 1619.5,1016.6 1631.5,1022.3 1642.5,1031.8 1654.5,1025.4 1665.5,1028.5 1677.5,1001.5 1689.5,1041.5 1700.5,1115.4 1712.5,1111.2 1724.5,1120.5 1735.5,1144.3 1747.5,1134.3 1759.5,1149.2 1770.5,1135.4 1782.5,1142.3 1794.5,1138.8"/>
<circle cx="1689.5" cy="1027.2" r="26.3" fill="#D9434F" fill-opacity="0.07" stroke="#D7414E" stroke-width="2.2"/>
<path d="M1582.2 1125.6 L1637.7 1064.6 L1631.1 1060 L1667.2 1053.1 L1655.7 1087.7 L1652 1081.1 L1584.6 1127.7 Z" fill="#D14856" stroke="#D14856" stroke-width="1" stroke-linejoin="round"/>
<g fill="#D14856" font-weight="bold" font-size="28" text-anchor="middle"><text x="1488.5" y="1121.6">Bearish</text><text x="1488.5" y="1150.8">Crossover</text></g>
<rect x="0" y="0" width="2380" height="1" fill="#E6E6E9"/>
<rect x="0" y="953" width="2380" height="2" fill="#E0E3EB"/>
<rect x="2273.0" y="0" width="107.5" height="1300" fill="#fff"/>
<rect x="0" y="1251" width="2380" height="49" fill="#fff"/>
<rect x="0" y="0" width="2380" height="1" fill="#E6E6E9"/>
<rect x="0" y="953" width="2380" height="2" fill="#E0E3EB"/>
<line x1="2272.5" y1="0" x2="2272.5" y2="1294.5" stroke="#787C8A" stroke-width="1.1"/>
<line x1="0" y1="1250.5" x2="2380" y2="1250.5" stroke="#787C8A" stroke-width="1.1"/>
<line x1="0" y1="1294.5" x2="2380" y2="1294.5" stroke="#E0E3EB" stroke-width="1.2"/>
<g fill="#585B66" font-size="20" letter-spacing="0.9">
<text x="2286.5" y="85.1">74,000</text>
<text x="2286.5" y="172.8">73,000</text>
<text x="2286.5" y="260.5">72,000</text>
<text x="2286.5" y="348.3">71,000</text>
<text x="2286.5" y="436.0">70,000</text>
<text x="2286.5" y="523.7">69,000</text>
<text x="2286.5" y="611.4">68,000</text>
<text x="2286.5" y="699.1">67,000</text>
<text x="2286.5" y="786.9">66,000</text>
<text x="2286.5" y="874.6">65,000</text>
</g>
<clipPath id="cr"><rect x="2274" y="955.5" width="106" height="295"/></clipPath>
<g fill="#585B66" font-size="20" letter-spacing="0.75" clip-path="url(#cr)">
<text x="2286.5" y="966.6">80.00</text>
<text x="2286.5" y="1016.6">70.00</text>
<text x="2286.5" y="1066.6">60.00</text>
<text x="2286.5" y="1116.6">50.00</text>
<text x="2286.5" y="1166.6">40.00</text>
<text x="2286.5" y="1216.6">30.00</text>
</g>
<path d="M2272.5 338.1 H2374.2 a3.8 3.8 0 0 1 3.8 3.8 V382.9 a3.8 3.8 0 0 1 -3.8 3.8 H2272.5 Z" fill="#52A49A"/>
<text x="2286.5" y="357.4" fill="#fff" font-size="20" letter-spacing="0.9">70,909</text>
<text x="2286.5" y="379.3" fill="#fff" fill-opacity="0.8" font-size="20" letter-spacing="0.35">02:57:01</text>
<rect x="2278.5" y="7.5" width="101" height="40" rx="5" fill="#fff" stroke="#E6E6E8" stroke-width="1.1"/>
<text x="2284.6" y="34.9" fill="#0F0F0F" font-size="19" letter-spacing="-0.55">USD</text>
<path d="M2365 26.7 L2368.5 30 L2372 26.7" fill="none" stroke="#0F0F0F" stroke-width="1.6" stroke-linecap="round" stroke-linejoin="round"/>
<g fill="#585B66" font-size="19.5" text-anchor="middle" letter-spacing="0.4">
<text x="23.5" y="1280.3">19</text>
<text x="163.5" y="1280.3">21</text>
<text x="303.5" y="1280.3">23</text>
<text x="443.5" y="1280.3">25</text>
<text x="582.5" y="1280.3">27</text>
<text x="722.5" y="1280.3">29</text>
<text x="932.5" y="1280.3" font-weight="bold" fill="#4A4D58">Apr</text>
<text x="1072.5" y="1280.3">3</text>
<text x="1211.5" y="1280.3">5</text>
<text x="1351.5" y="1280.3">7</text>
<text x="1491.5" y="1280.3">9</text>
<text x="1631.5" y="1280.3">11</text>
<text x="1770.5" y="1280.3">13</text>
<text x="1910.5" y="1280.3">15</text>
<text x="2050.5" y="1280.3">17</text>
<text x="2190.5" y="1280.3">19</text>
</g>
<g fill="none" stroke="#0F0F0F" stroke-width="1.5" stroke-linejoin="round"><path d="M2319.2 1272.2 L2324.4 1262.7 H2335.7 L2340.9 1272.2 L2335.7 1281.7 H2324.4 Z"/><circle cx="2330.05" cy="1272.2" r="3.05"/></g>
<rect x="0" y="8" width="1024" height="38" fill="#fff" fill-opacity="0.7"/><rect x="0" y="46" width="237" height="36" fill="#fff" fill-opacity="0.7"/><rect x="0" y="962" width="280" height="38" fill="#fff" fill-opacity="0.7"/>
<circle cx="25.5" cy="26.5" r="14.5" fill="#E8933C"/>
<g transform="rotate(14 25.5 26.5)" fill="#fff"><text x="25.7" y="32.4" font-size="17" font-weight="bold" text-anchor="middle">B</text><rect x="22.6" y="17.6" width="1.7" height="3.4"/><rect x="26" y="17.6" width="1.7" height="3.4"/><rect x="22.6" y="32" width="1.7" height="3.4"/><rect x="26" y="32" width="1.7" height="3.4"/></g>
<text x="48" y="35.6" fill="#4A4D5A" font-size="24" letter-spacing="0.55">Bitcoin / U.S. Dollar <tspan fill="#131722" font-weight="bold">·</tspan> 4h <tspan fill="#131722" font-weight="bold">·</tspan> Bitstamp</text>
<circle cx="467" cy="26" r="14.3" fill="#E0EEEA"/><circle cx="467" cy="26" r="6.5" fill="#2C6A58"/>
<text x="494.5" y="33.5" font-size="20" letter-spacing="1.6"><tspan fill="#4A4D5A">O</tspan><tspan fill="#4CA394" dx="1.2">70,846</tspan></text>
<text x="593.3" y="33.5" font-size="20" letter-spacing="1.6"><tspan fill="#4A4D5A">H</tspan><tspan fill="#4CA394" dx="1.2">70,909</tspan></text>
<text x="690.8" y="33.5" font-size="20" letter-spacing="1.6"><tspan fill="#4A4D5A">L</tspan><tspan fill="#4CA394" dx="1.2">70,584</tspan></text>
<text x="784.4" y="33.5" font-size="20" letter-spacing="1.6"><tspan fill="#4A4D5A">C</tspan><tspan fill="#4CA394" dx="1.2">70,909</tspan></text>
<text x="881.2" y="33.5" font-size="20" letter-spacing="1.2" fill="#4CA394">+62 (+0.09%)</text>
<text x="12" y="73.2" font-size="20" letter-spacing="0.8" fill="#4A4D5A">EMA 50 close</text>
<text x="157.3" y="73.2" font-size="20" letter-spacing="1.65" fill="#3B63F2">70,836</text>
<rect x="12.4" y="89.3" width="43.8" height="31.2" rx="4" fill="#fff" fill-opacity="0.75" stroke="#E0E3EB" stroke-width="1.2"/>
<path d="M28.3 108.1 L34.1 102.9 L39.9 108.1" fill="none" stroke="#0F0F0F" stroke-width="1.7" stroke-linecap="round" stroke-linejoin="round"/>
<text x="11.8" y="988" font-size="20" letter-spacing="0.65" fill="#4A4D5A">RSI 14 close</text>
<text x="145.2" y="988" font-size="20" letter-spacing="1.5" fill="#7452C0">44.23</text>
<text x="213.5" y="988" font-size="20" letter-spacing="1.45" fill="#F5D04E">53.07</text>
<g fill="#131313" stroke="#fff" stroke-width="5" stroke-linejoin="round">
<path d="M17.6 1204 H36.6 V1227.3 H26.2 V1212.5 H17.6 Z"/><circle cx="44.4" cy="1208" r="4.4"/><path d="M52.3 1204 H64.5 L56.1 1227.3 H45.1 Z"/>
<text x="77" y="1227.3" font-size="32.5" font-weight="bold" letter-spacing="0.15">TradingView</text>
</g>
<g fill="#131313" stroke="#131313" stroke-width="0.7" stroke-linejoin="round">
<path d="M17.6 1204 H36.6 V1227.3 H26.2 V1212.5 H17.6 Z"/><circle cx="44.4" cy="1208" r="4.4"/><path d="M52.3 1204 H64.5 L56.1 1227.3 H45.1 Z"/>
<text x="77" y="1227.3" font-size="32.5" font-weight="bold" letter-spacing="0.15">TradingView</text>
</g>
</svg></body></html>
